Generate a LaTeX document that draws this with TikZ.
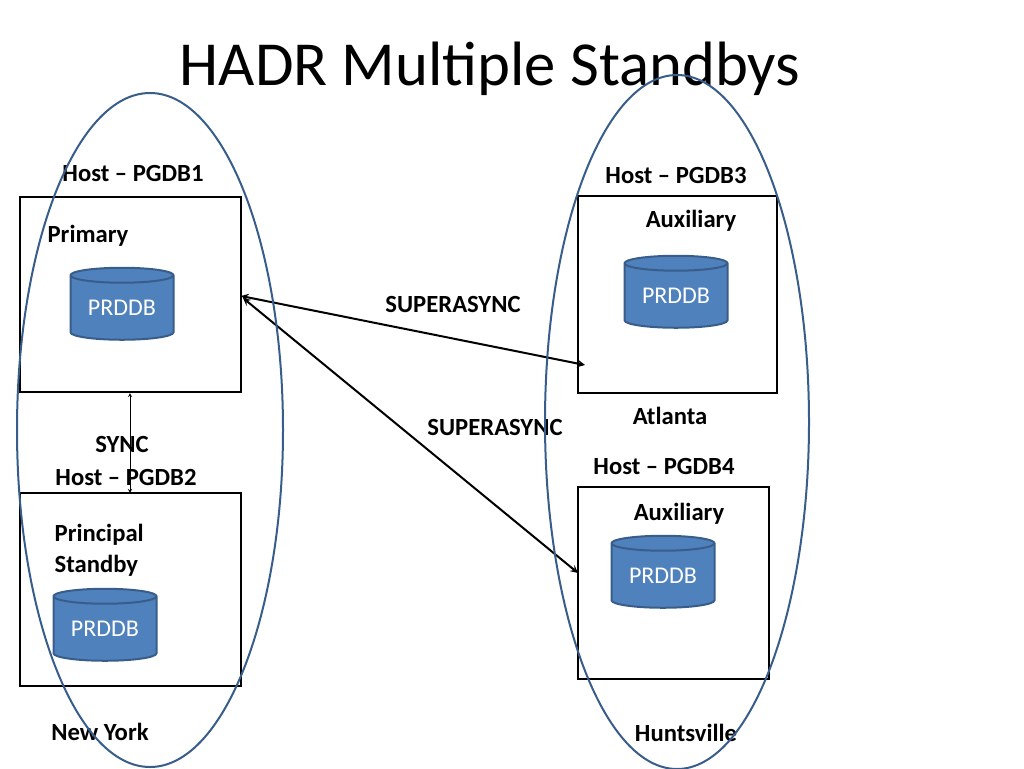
\documentclass[tikz,border=0pt]{standalone}
\usepackage{fontspec}
\setmainfont{Carlito}
\usetikzlibrary{shapes.geometric}
\definecolor{dbblue}{HTML}{4F81BD}
\definecolor{dbedge}{HTML}{385D8A}
\begin{document}
\begin{tikzpicture}[x=0.75pt,y=-0.75pt,
	host/.style={draw, line width=1.5pt},
	db/.style={cylinder, shape border rotate=90, aspect=0.22, draw=dbedge, line width=1.5pt,
		fill=dbblue, text=white, minimum width=103*0.75pt, minimum height=72*0.75pt,
		font=\fontsize{18}{22}\selectfont, inner sep=0pt},
	lbl/.style={font=\bfseries\fontsize{18.5}{23}\selectfont, align=left},
	site/.style={draw=dbedge, line width=1.5pt},
	link/.style={<->, >=stealth, line width=1.5pt}]
	\useasboundingbox (0,0) rectangle (1024,768);
	\node[font=\fontsize{47}{56}\selectfont] (title) at (490,69) {HADR Multiple Standbys};
	% hosts
	\draw[host] (20,197) rectangle (241,392);
	\draw[host] (20,493) rectangle (241,686);
	\draw[host] (578,196) rectangle (777,393);
	\draw[host] (578,487) rectangle (769,679);
	\coordinate (p1) at (241,296);
	\coordinate (p1b) at (243,298);
	\coordinate (s3) at (585,365);
	\coordinate (s4) at (578,573);
	\coordinate (p1s) at (130,393);
	\coordinate (s2) at (130,493);
	% databases
	\node[db] (db1) at (122,308) {PRDDB};
	\node[db] (db2) at (105,629) {PRDDB};
	\node[db] (db3) at (676,296) {PRDDB};
	\node[db] (db4) at (663,576) {PRDDB};
	% labels
	\node[lbl] (h1) at (133,173) {Host – PGDB1};
	\node[lbl] (prim) at (88,236) {Primary};
	\node[lbl] (h3) at (676,175) {Host – PGDB3};
	\node[lbl] (aux3) at (691,221) {Auxiliary};
	\node[lbl] (sa1) at (453,304) {SUPERASYNC};
	\node[lbl] (sa2) at (495,427) {SUPERASYNC};
	\node[lbl] (atl) at (670,416) {Atlanta};
	\node[lbl] (h4) at (664,466) {Host – PGDB4};
	\node[lbl] (aux4) at (679,514) {Auxiliary};
	\node[lbl] (sync) at (122,444) {SYNC};
	\node[lbl] (h2) at (126,477) {Host – PGDB2};
	\node[lbl, anchor=west] (ps) at (50,550) {Principal\\Standby};
	\node[lbl] (ny) at (100,732) {New York};
	\node[lbl] (hsv) at (686,733) {Huntsville};
	% connectors
	\draw[link] (p1) -- (s3);
	\draw[link] (p1b) -- (s4);
	\draw[<->, >=stealth] (p1s) -- (s2);
	% sites
	\draw[site] (150,430) ellipse [x radius=133, y radius=337];
	\draw[site] (677,422) ellipse [x radius=132, y radius=347];
\end{tikzpicture}
\end{document}
